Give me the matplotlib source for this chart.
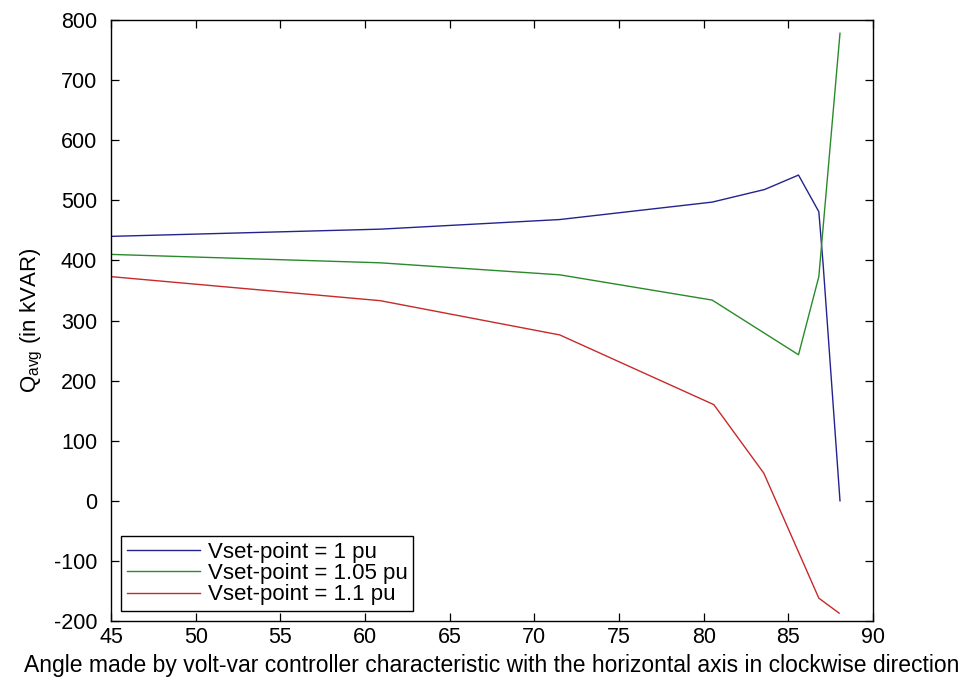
#!/usr/bin/env python3

import matplotlib
matplotlib.use("Agg")
import matplotlib.pyplot as plt

plt.rcParams['font.family'] = ['Liberation Sans', 'DejaVu Sans']
plt.rcParams['mathtext.default'] = 'regular'
plt.rcParams['axes.unicode_minus'] = False

# angle (deg) vs Q_avg (kVAR)
ang_1 = [45, 60.9, 71.5, 80.5, 83.6, 85.6, 86.8, 87.05, 88.05]
q_1 = [440, 452, 468, 497, 518, 542, 481, 395, 0]

ang_105 = [45, 60.9, 71.5, 80.5, 85.6, 86.8, 88.05]
q_105 = [410, 396, 376, 334, 243, 373, 778]

ang_11 = [45, 60.9, 71.5, 80.6, 83.55, 86.8, 88.0]
q_11 = [373, 333, 276, 160, 46, -162, -187]

labels = ['Vset-point = 1 pu', 'Vset-point = 1.05 pu', 'Vset-point = 1.1 pu']

fig = plt.figure(figsize=(9.62, 6.88), dpi=100)
ax = fig.add_axes([0.1154, 0.0974, 0.7921, 0.8735])

ax.plot(ang_1, q_1, color='#23238f', lw=1.0, label=labels[0])
ax.plot(ang_105, q_105, color='#2a8a2a', lw=1.0, label=labels[1])
ax.plot(ang_11, q_11, color='#c62a2a', lw=1.0, label=labels[2])

ax.set_xlim(45, 90)
ax.set_ylim(-200, 800)
ax.set_xticks(range(45, 91, 5))
ax.set_yticks(range(-200, 801, 100))
ax.tick_params(direction='in', top=True, right=True, length=6, width=0.9,
               labelsize=15.5)
ax.tick_params(axis='x', pad=4)
ax.tick_params(axis='y', pad=10)
for s in ax.spines.values():
    s.set_linewidth(1.0)

ax.set_xlabel('Angle made by volt-var controller characteristic with the horizontal axis in clockwise direction',
              fontsize=16.5, labelpad=5)
ax.set_ylabel('Q$_{avg}$ (in kVAR)', fontsize=16, labelpad=6)

leg = ax.legend(loc='lower left', prop={'size': 16}, fancybox=False, framealpha=1,
                edgecolor='black', handlelength=3.3, handletextpad=0.35,
                borderpad=0.25, labelspacing=0.02, borderaxespad=0.45)
leg.get_frame().set_linewidth(1.0)

fig.savefig('out.png', dpi=100)
